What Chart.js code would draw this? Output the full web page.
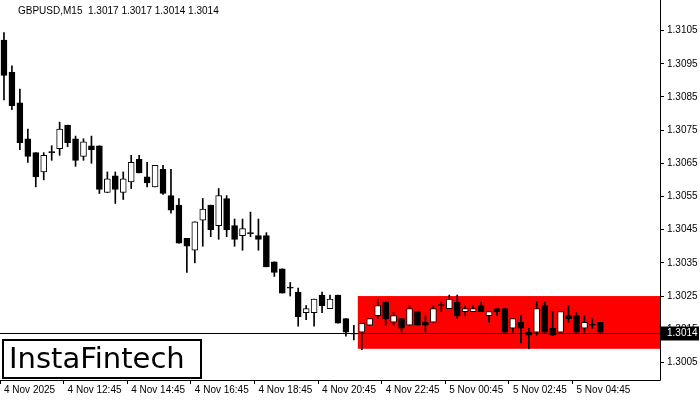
<!DOCTYPE html>
<html>
<head>
<meta charset="utf-8">
<script src="https://cdn.jsdelivr.net/npm/chart.js@4.4.1/dist/chart.umd.min.js"></script>
<style>
  html, body { margin: 0; padding: 0; background: #fff; }
  #box { width: 700px; height: 400px; }
</style>
</head>
<body>
<div id="box"><canvas id="grafico"></canvas></div>
<script>
// Dati (GBPUSD M15)
const orari = ["4 Nov 2025", "4 Nov 12:45", "4 Nov 14:45", "4 Nov 16:45", "4 Nov 18:45",
               "4 Nov 20:45", "4 Nov 22:45", "5 Nov 00:45", "5 Nov 02:45", "5 Nov 04:45"];
const apertura = [1.31021,1.30924,1.30832,1.30724,1.30682,1.30624,1.30682,1.30694,1.30765,1.30724,
  1.30671,1.30703,1.30703,1.30562,1.30612,1.30562,1.30594,1.30662,1.30609,1.30579,
  1.30632,1.30553,1.30524,1.30424,1.30388,1.30479,1.30524,1.30462,1.30544,1.30462,
  1.30432,1.30438,1.30432,1.30432,1.30353,1.30332,1.30274,1.30262,1.30200,1.30200,
  1.30253,1.30212,1.30253,1.30182,1.30135,1.30141,1.30162,1.30191,1.30232,1.30171,
  1.30182,1.30162,1.30203,1.30171,1.30171,1.30221,1.30212,1.30232,1.30203,1.30203,
  1.30221,1.30191,1.30212,1.30212,1.30153,1.30171,1.30141,1.30141,1.30221,1.30153,
  1.30141,1.30191,1.30191,1.30153,1.30162,1.30171];
const massimo = [1.31044,1.30944,1.30874,1.30753,1.30682,1.30682,1.30703,1.30774,1.30765,1.30732,
  1.30724,1.30732,1.30703,1.30624,1.30624,1.30624,1.30674,1.30674,1.30653,1.30644,
  1.30644,1.30632,1.30544,1.30424,1.30474,1.30544,1.30524,1.30574,1.30553,1.30482,
  1.30482,1.30503,1.30482,1.30441,1.30353,1.30332,1.30291,1.30274,1.30221,1.30241,
  1.30262,1.30253,1.30253,1.30182,1.30162,1.30168,1.30182,1.30241,1.30232,1.30200,
  1.30182,1.30221,1.30203,1.30191,1.30221,1.30232,1.30253,1.30253,1.30221,1.30221,
  1.30232,1.30203,1.30212,1.30212,1.30182,1.30191,1.30153,1.30232,1.30232,1.30203,
  1.30203,1.30221,1.30200,1.30191,1.30182,1.30171];
const minimo = [1.30841,1.30812,1.30691,1.30653,1.30579,1.30600,1.30659,1.30674,1.30700,1.30641,
  1.30659,1.30650,1.30559,1.30562,1.30529,1.30541,1.30574,1.30621,1.30579,1.30579,
  1.30556,1.30500,1.30409,1.30321,1.30350,1.30400,1.30429,1.30421,1.30429,1.30400,
  1.30388,1.30429,1.30388,1.30338,1.30309,1.30259,1.30250,1.30159,1.30179,1.30159,
  1.30200,1.30212,1.30168,1.30129,1.30118,1.30088,1.30162,1.30182,1.30162,1.30162,
  1.30141,1.30162,1.30162,1.30141,1.30171,1.30203,1.30212,1.30182,1.30191,1.30203,
  1.30203,1.30171,1.30191,1.30141,1.30141,1.30109,1.30091,1.30132,1.30141,1.30132,
  1.30141,1.30171,1.30141,1.30141,1.30153,1.30141];
const chiusura = [1.30915,1.30824,1.30712,1.30671,1.30609,1.30674,1.30682,1.30753,1.30712,1.30659,
  1.30715,1.30691,1.30571,1.30603,1.30571,1.30603,1.30653,1.30621,1.30591,1.30644,
  1.30559,1.30509,1.30409,1.30400,1.30474,1.30512,1.30450,1.30553,1.30450,1.30421,
  1.30453,1.30438,1.30421,1.30338,1.30321,1.30259,1.30274,1.30188,1.30212,1.30241,
  1.30221,1.30241,1.30168,1.30141,1.30135,1.30168,1.30182,1.30221,1.30182,1.30191,
  1.30153,1.30212,1.30162,1.30162,1.30212,1.30221,1.30241,1.30191,1.30212,1.30212,
  1.30203,1.30203,1.30203,1.30141,1.30182,1.30153,1.30132,1.30212,1.30141,1.30132,
  1.30203,1.30182,1.30141,1.30171,1.30162,1.30141];
const tickPrezzo = [1.3005, 1.3015, 1.3025, 1.3035, 1.3045, 1.3055, 1.3065, 1.3075, 1.3085, 1.3095, 1.3105];
const prezzoAttuale = 1.3014;
const zonaInizio = 45, zonaAlto = 1.3025, zonaBasso = 1.30091;
const titolo = "GBPUSD,M15  1.3017 1.3017 1.3014 1.3014";

const slot = 83; // posizioni sull'asse x (candele + spazio vuoto a destra)
const etichette = Array.from({ length: slot }, (_, i) => (i % 8 === 0 && orari[i / 8]) ? orari[i / 8] : "");
const stoppini = minimo.map((l, i) => [l, massimo[i]]);
const corpi = apertura.map((o, i) => [Math.min(o, chiusura[i]), Math.max(o, chiusura[i])]);
const coloreCorpo = apertura.map((o, i) => chiusura[i] > o ? "#ffffff" : "#000000");

const disegniExtra = {
  id: "extra",
  beforeDatasetsDraw(chart) {
    const { ctx, chartArea, scales } = chart;
    const xs = scales.x.getPixelForValue(zonaInizio) - 4;
    const y1 = scales.y.getPixelForValue(zonaAlto);
    const y2 = scales.y.getPixelForValue(zonaBasso);
    ctx.save();
    ctx.fillStyle = "#ff0000";
    ctx.fillRect(xs, y1, chartArea.right - xs, y2 - y1);
    ctx.restore();
  },
  afterDatasetsDraw(chart) {
    const { ctx, chartArea, scales } = chart;
    const yp = Math.round(scales.y.getPixelForValue(prezzoAttuale)) + 0.5;
    ctx.save();
    ctx.strokeStyle = "#000";
    ctx.lineWidth = 1;
    ctx.beginPath();
    ctx.moveTo(chartArea.left, yp); ctx.lineTo(chartArea.right, yp);
    ctx.stroke();
    // bordo dell'area
    ctx.beginPath();
    ctx.moveTo(chartArea.right + 0.5, 0); ctx.lineTo(chartArea.right + 0.5, chartArea.bottom + 0.5);
    ctx.lineTo(0, chartArea.bottom + 0.5);
    ctx.stroke();
    // etichetta prezzo
    ctx.fillStyle = "#000";
    ctx.fillRect(chartArea.right + 1, yp - 7, 38, 14);
    ctx.fillStyle = "#fff";
    ctx.font = "10px 'Liberation Sans'";
    ctx.textBaseline = "middle";
    ctx.fillText(prezzoAttuale.toFixed(4), chartArea.right + 7, yp);
    // titolo
    ctx.fillStyle = "#000";
    ctx.fillText(titolo, 18, 11);
    // logo
    ctx.fillStyle = "#fff";
    ctx.fillRect(3, 340, 198, 38);
    ctx.lineWidth = 2;
    ctx.strokeRect(3, 340, 198, 38);
    ctx.fillStyle = "#000";
    ctx.font = "29px 'DejaVu Sans'";
    ctx.fillText("InstaFintech", 9, 360);
    ctx.restore();
  }
};

new Chart(document.getElementById("grafico"), {
  type: "bar",
  data: {
    labels: etichette,
    datasets: [
      { data: stoppini, backgroundColor: "#000", barThickness: 1, grouped: false, order: 2 },
      { data: corpi, backgroundColor: coloreCorpo, borderColor: "#000", borderWidth: 1,
        borderSkipped: false, barThickness: 6, minBarLength: 1, grouped: false, order: 1 }
    ]
  },
  options: {
    responsive: true,
    maintainAspectRatio: false,
    animation: false,
    layout: { padding: 0 },
    plugins: { legend: { display: false }, tooltip: { enabled: false } },
    scales: {
      x: {
        offset: true,
        grid: { display: true, drawOnChartArea: false, tickLength: 4,
                color: c => (c.index % 8 === 0 && etichette[c.index]) ? "#000" : "rgba(0,0,0,0)" },
        border: { display: false },
        ticks: { autoSkip: false, maxRotation: 0, align: "start", padding: 0,
                 color: "#000", font: { family: "Liberation Sans", size: 10 } },
        afterFit: s => { s.height = 20; }
      },
      y: {
        position: "right",
        min: 1.29997, max: 1.31115,
        afterBuildTicks: s => { s.ticks = tickPrezzo.map(v => ({ value: v })); },
        grid: { display: true, drawOnChartArea: false, tickLength: 4, color: "#000" },
        border: { display: false },
        ticks: { color: "#000", padding: 3, font: { family: "Liberation Sans", size: 10 },
                 callback: v => v.toFixed(4) },
        afterFit: s => { s.width = 40; }
      }
    }
  },
  plugins: [disegniExtra]
});
</script>
</body>
</html>
